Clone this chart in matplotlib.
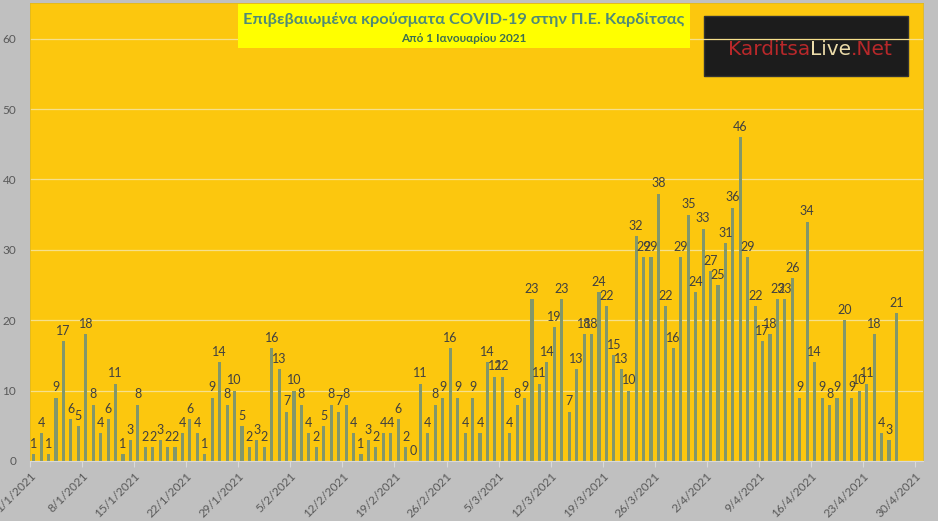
import matplotlib
matplotlib.use("Agg")
import matplotlib.pyplot as plt
from matplotlib.patches import Rectangle

# daily confirmed cases, 1/1/2021 .. 27/4/2021 (axis runs to 30/4)
jan = [1, 4, 1, 9, 17, 6, 5, 18, 8, 4, 6, 11, 1, 3, 8, 2, 2, 3, 2, 2, 4, 6, 4, 1, 9, 14, 8, 10, 5, 2, 3]
feb = [2, 16, 13, 7, 10, 8, 4, 2, 5, 8, 7, 8, 4, 1, 3, 2, 4, 4, 6, 2, 0, 11, 4, 8, 9, 16, 9, 4]
mar = [9, 4, 14, 12, 12, 4, 8, 9, 23, 11, 14, 19, 23, 7, 13, 18, 18, 24, 22, 15, 13,
       10, 32, 29, 29, 38, 22, 16, 29, 35, 24]
apr = [33, 27, 25, 31, 36, 46, 29, 22, 17, 18, 23, 23, 26, 9, 34, 14, 9, 8, 9, 20, 9, 10, 11, 18, 4, 3, 21]

tick_labels = ["1/1/2021", "8/1/2021", "15/1/2021", "22/1/2021", "29/1/2021", "5/2/2021",
               "12/2/2021", "19/2/2021", "26/2/2021", "5/3/2021", "12/3/2021", "19/3/2021",
               "26/3/2021", "2/4/2021", "9/4/2021", "16/4/2021", "23/4/2021", "30/4/2021"]
n_days = 120

title = "Επιβεβαιωμένα κρούσματα COVID-19 στην Π.Ε. Καρδίτσας"
subtitle = "Από 1 Ιανουαρίου 2021"

cases = jan + feb + mar + apr

plt.rcParams['font.family'] = ['Lato', 'DejaVu Sans']

fig = plt.figure(figsize=(9.38, 5.21), dpi=100)
fig.patch.set_facecolor('#c0c0c0')
ax = fig.add_axes([0.032, 0.1152, 0.9515, 0.8781])
ax.set_facecolor('#fcc70e')

x = list(range(len(cases)))
bars = ax.bar(x, cases, width=0.42, color='#82976a', zorder=2)
for xi, v in zip(x, cases):
    ax.text(xi, v + 0.6, str(v), ha='center', va='bottom', fontsize=9,
            color='#404040', zorder=3)

ax.set_xlim(-0.5, n_days - 0.5)
ax.set_ylim(0, 65)
ax.set_yticks(range(0, 61, 10))
ax.set_xticks([7 * k - 0.5 for k in range(len(tick_labels))])
ax.set_xticklabels(tick_labels, rotation=45, ha='right', rotation_mode='anchor',
                   fontsize=8.5, color='#595959')
ax.tick_params(axis='x', length=4, color='#d9d9d9', pad=3)
ax.tick_params(axis='y', length=0, pad=10, labelsize=8.5, labelcolor='#595959')

ax.set_axisbelow(True)
ax.grid(axis='y', color='#f6e08c', lw=0.9)
for s in ['left', 'right', 'top']:
    ax.spines[s].set_color('#e0b820')
    ax.spines[s].set_linewidth(0.6)
ax.spines['bottom'].set_color('#d9d9d9')

# logo box (under the gridlines like in the original)
ax.add_patch(Rectangle((0.755, 0.8415), 0.2286, 0.1311, transform=ax.transAxes,
                       facecolor='#1c1c1c', edgecolor='#333333', zorder=0.2))
logo_parts = [("Karditsa", '#b8282a'), ("Live", '#ecdcaa'), (".Net", '#b8282a')]
fig.canvas.draw()
r = fig.canvas.get_renderer()
lx = 0.782
for txt, col in logo_parts:
    t = ax.text(lx, 0.9, txt, transform=ax.transAxes, fontsize=14.5, color=col,
                ha='left', va='center', family=['DejaVu Sans'], zorder=0.3)
    bb = t.get_window_extent(renderer=r).transformed(ax.transAxes.inverted())
    lx = bb.x1

# title box
fig.patches.append(Rectangle((0.2537, 0.9079), 0.4819, 0.0844, transform=fig.transFigure,
                             facecolor='#ffff00', edgecolor='none', zorder=5))
fig.text(0.4947, 0.963, title, ha='center', va='center', fontsize=11.8, fontweight='bold',
         color='#4f8a77', zorder=6)
fig.text(0.4947, 0.927, subtitle, ha='center', va='center', fontsize=8.5, fontweight='bold',
         color='#3d6f50', zorder=6)

fig.savefig('out.png', dpi=100, facecolor=fig.get_facecolor())
